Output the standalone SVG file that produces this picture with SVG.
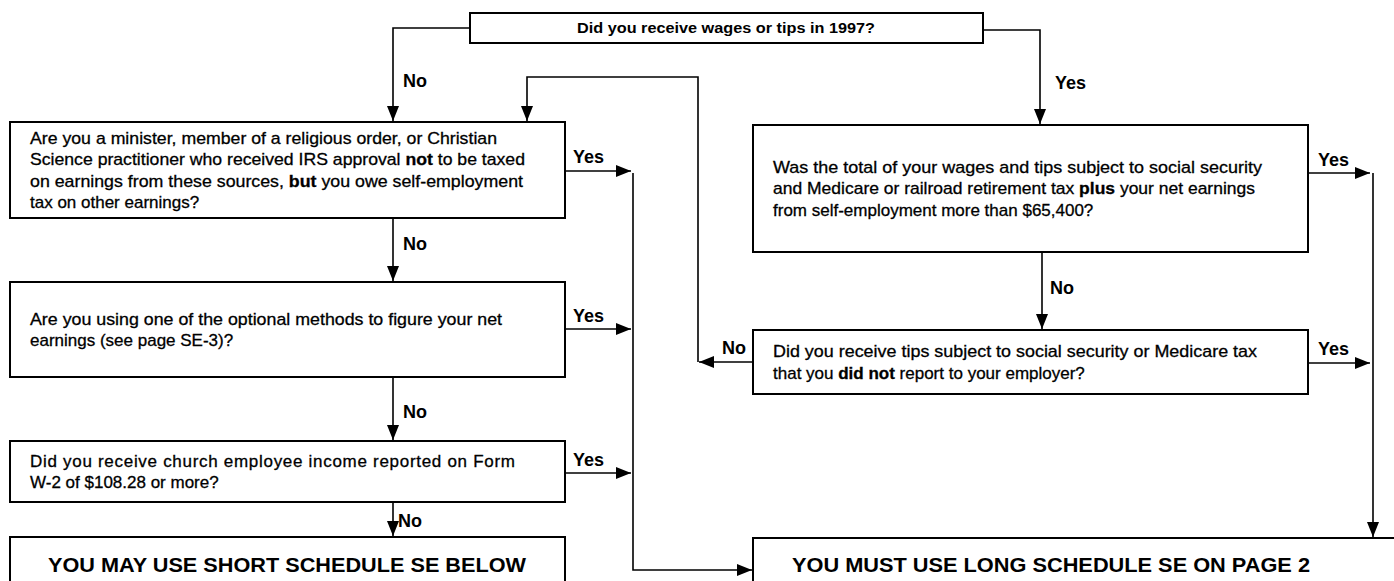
<svg xmlns="http://www.w3.org/2000/svg" width="1394" height="581" viewBox="0 0 1394 581">
<defs>
<style>
.box{fill:#fff;stroke:#000;stroke-width:2}
.con{fill:none;stroke:#000;stroke-width:1.6}
.t{font-family:"Liberation Sans",Arial,sans-serif;font-size:17px;fill:#000;stroke:#000;stroke-width:0.3}
.b{font-weight:bold}
.lbl{font-family:"Liberation Sans",Arial,sans-serif;font-size:18px;font-weight:bold;fill:#000}
.big{font-family:"Liberation Sans",Arial,sans-serif;font-size:20px;font-weight:bold;fill:#000}
.top{font-family:"Liberation Sans",Arial,sans-serif;font-size:14px;font-weight:bold;fill:#000}
</style>
<marker id="ah" markerUnits="userSpaceOnUse" markerWidth="16" markerHeight="14" refX="15" refY="7" orient="auto">
<path d="M0,1 L15,7 L0,13 Z" fill="#000"/>
</marker>
</defs>

<g id="connectors">
<path class="con" d="M470,28 H393 V121" marker-end="url(#ah)"/>
<path class="con" d="M983,30 H1040 V124" marker-end="url(#ah)"/>
<path class="con" d="M753,362 H699" marker-end="url(#ah)"/>
<path class="con" d="M698,362 V77 H527 V121" marker-end="url(#ah)"/>
<path class="con" d="M393,218 V281" marker-end="url(#ah)"/>
<path class="con" d="M393,377 V440" marker-end="url(#ah)"/>
<path class="con" d="M393,502 V536" marker-end="url(#ah)"/>
<path class="con" d="M565,171 H631" marker-end="url(#ah)"/>
<path class="con" d="M565,329 H631" marker-end="url(#ah)"/>
<path class="con" d="M565,473 H631" marker-end="url(#ah)"/>
<path class="con" d="M633,173 V570 H752" marker-end="url(#ah)"/>
<path class="con" d="M1042,252 V329" marker-end="url(#ah)"/>
<path class="con" d="M1308,173 H1370" marker-end="url(#ah)"/>
<path class="con" d="M1308,363 H1370" marker-end="url(#ah)"/>
<path class="con" d="M1373,173 V537" marker-end="url(#ah)"/>
<text class="lbl" x="403" y="87">No</text>
<text class="lbl" x="1055" y="89">Yes</text>
<text class="lbl" x="573" y="163">Yes</text>
<text class="lbl" x="573" y="322">Yes</text>
<text class="lbl" x="573" y="466">Yes</text>
<text class="lbl" x="403" y="250">No</text>
<text class="lbl" x="403" y="418">No</text>
<text class="lbl" x="398" y="527">No</text>
<text class="lbl" x="1050" y="294">No</text>
<text class="lbl" x="722" y="354">No</text>
<text class="lbl" x="1318" y="166">Yes</text>
<text class="lbl" x="1318" y="355">Yes</text>
</g>

<g id="n-wages">
<rect class="box" x="470" y="13" width="513" height="30"/>
<text class="top" x="577" y="33" textLength="298" lengthAdjust="spacingAndGlyphs">Did you receive wages or tips in 1997?</text>
</g>

<g id="n-minister">
<rect class="box" x="10" y="122" width="555" height="96"/>
<text class="t" x="30" y="144" textLength="467" lengthAdjust="spacingAndGlyphs">Are you a minister, member of a religious order, or Christian</text>
<text class="t" x="30" y="165" textLength="495" lengthAdjust="spacingAndGlyphs">Science practitioner who received IRS approval <tspan class="b">not</tspan> to be taxed</text>
<text class="t" x="30" y="187" textLength="493" lengthAdjust="spacingAndGlyphs">on earnings from these sources, <tspan class="b">but</tspan> you owe self-employment</text>
<text class="t" x="30" y="208">tax on other earnings?</text>
</g>

<g id="n-optional">
<rect class="box" x="10" y="282" width="555" height="95"/>
<text class="t" x="30" y="325" textLength="472" lengthAdjust="spacingAndGlyphs">Are you using one of the optional methods to figure your net</text>
<text class="t" x="30" y="346">earnings (see page SE-3)?</text>
</g>

<g id="n-church">
<rect class="box" x="10" y="441" width="555" height="61"/>
<text class="t" x="30" y="467" textLength="485" lengthAdjust="spacing">Did you receive church employee income reported on Form</text>
<text class="t" x="30" y="488">W-2 of $108.28 or more?</text>
</g>

<g id="n-short">
<rect class="box" x="10" y="537" width="555" height="70"/>
<text class="big" x="48" y="572" textLength="478" lengthAdjust="spacingAndGlyphs">YOU MAY USE SHORT SCHEDULE SE BELOW</text>
</g>

<g id="n-total">
<rect class="box" x="753" y="125" width="555" height="127"/>
<text class="t" x="773" y="173" textLength="489" lengthAdjust="spacingAndGlyphs">Was the total of your wages and tips subject to social security</text>
<text class="t" x="773" y="194" textLength="482" lengthAdjust="spacingAndGlyphs">and Medicare or railroad retirement tax <tspan class="b">plus</tspan> your net earnings</text>
<text class="t" x="773" y="216">from self-employment more than $65,400?</text>
</g>

<g id="n-tips">
<rect class="box" x="753" y="330" width="555" height="64"/>
<text class="t" x="773" y="357" textLength="484" lengthAdjust="spacingAndGlyphs">Did you receive tips subject to social security or Medicare tax</text>
<text class="t" x="773" y="379">that you <tspan class="b">did not</tspan> report to your employer?</text>
</g>

<g id="n-long">
<rect class="box" x="753" y="538" width="700" height="70"/>
<text class="big" x="792" y="572" textLength="518" lengthAdjust="spacingAndGlyphs">YOU MUST USE LONG SCHEDULE SE ON PAGE 2</text>
</g>
</svg>
